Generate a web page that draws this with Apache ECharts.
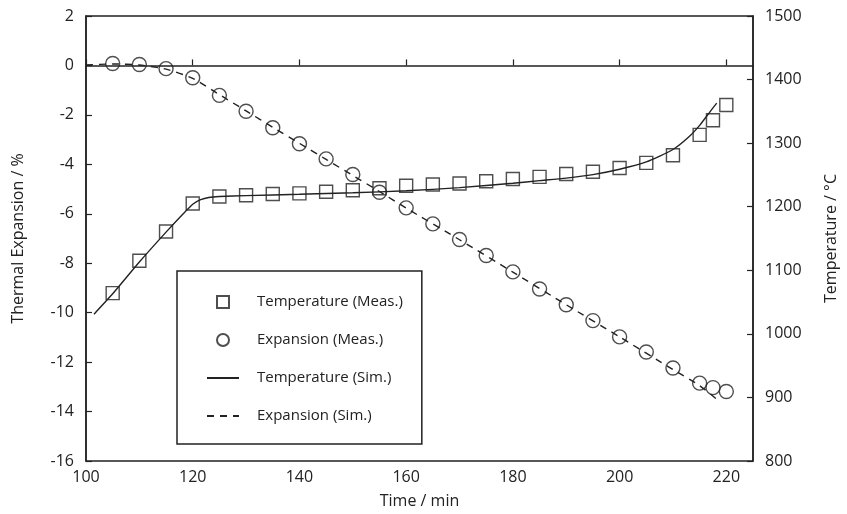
<!DOCTYPE html>
<html>
<head>
<meta charset="utf-8" />
<title>Thermal Expansion</title>
<script src="https://cdn.jsdelivr.net/npm/echarts@6/dist/echarts.min.js"></script>
<style>
  html, body { margin: 0; padding: 0; background: #fff; }
  #chart { width: 847px; height: 514px; }
</style>
</head>
<body>
<div id="chart"></div>
<script>
// measured points: [time min, value]
var tempMeas = [
  [105, 1064], [110, 1115], [115, 1161], [120, 1205], [125, 1216], [130, 1218],
  [135, 1220], [140, 1221], [145, 1223.5], [150, 1226], [155, 1229], [160, 1233],
  [165, 1235], [170, 1236.5], [175, 1240], [180, 1243.5], [185, 1247], [190, 1251.5],
  [195, 1255], [200, 1261], [205, 1269], [210, 1281], [215, 1313], [217.5, 1336], [220, 1360]
];
var expMeas = [
  [105, 0.08], [110, 0.04], [115, -0.13], [120, -0.5], [125, -1.21], [130, -1.85],
  [135, -2.52], [140, -3.17], [145, -3.78], [150, -4.41], [155, -5.13], [160, -5.76],
  [165, -6.41], [170, -7.04], [175, -7.69], [180, -8.35], [185, -9.04], [190, -9.68],
  [195, -10.32], [200, -10.98], [205, -11.59], [210, -12.24], [215, -12.85], [217.5, -13.03], [220, -13.19]
];
// simulated curves
var tempSim = [
  [101.5, 1031], [105, 1063], [110, 1113], [115, 1160], [118, 1187], [120, 1204],
  [121.5, 1211], [123, 1214.5], [125, 1216], [130, 1217.5], [140, 1219.5], [150, 1222],
  [160, 1225], [170, 1230], [180, 1237], [185, 1241], [190, 1245], [195, 1250.5],
  [200, 1259], [205, 1270.5], [210, 1290], [213, 1310], [215, 1328], [217, 1350], [218.2, 1363]
];
var expSim = [
  [100, 0.02], [105, 0.06], [110, 0.02], [115, -0.15], [120, -0.52], [125, -1.18],
  [130, -1.84], [135, -2.5], [140, -3.15], [145, -3.8], [150, -4.45], [155, -5.1],
  [160, -5.77], [170, -7.05], [180, -8.36], [190, -9.68], [200, -10.98], [210, -12.3],
  [215, -12.95], [218.2, -13.5]
];
var names = ['Temperature (Meas.)', 'Expansion (Meas.)', 'Temperature (Sim.)', 'Expansion (Sim.)'];

var ink = '#222';
var font = 'Open Sans';
var square = 'path://M0,0L10,0L10,10L0,10Z';

var chart = echarts.init(document.getElementById('chart'));
var axisBase = {
  axisLine: { show: true, lineStyle: { color: ink, width: 1.5 } },
  axisTick: { show: true, inside: true, length: 6, lineStyle: { color: ink, width: 1.2 } },
  axisLabel: { color: ink, fontFamily: font, fontSize: 16 },
  splitLine: { show: false },
  nameTextStyle: { color: ink, fontFamily: font, fontSize: 16 }
};
var noDot = { color: 'transparent', borderColor: 'transparent', borderWidth: 0 };
chart.setOption({
  animation: false,
  backgroundColor: '#fff',
  grid: { left: 86, right: 92, top: 16, bottom: 53, show: true, borderColor: ink, borderWidth: 1.5 },
  legend: {
    data: [
      { name: names[0] },
      { name: names[1] },
      { name: names[2], itemStyle: noDot },
      { name: names[3], itemStyle: noDot }
    ],
    orient: 'vertical',
    left: 177,
    top: 271,
    padding: [22, 19, 19, 29],
    itemWidth: 32,
    itemHeight: 12,
    itemGap: 20,
    borderColor: ink,
    borderWidth: 1.5,
    textStyle: { color: ink, fontFamily: font, fontSize: 15, lineHeight: 18, padding: [0, 0, 0, 13] }
  },
  xAxis: Object.assign({}, axisBase, {
    type: 'value', min: 100, max: 225, interval: 20,
    name: 'Time / min', nameLocation: 'middle', nameGap: 32,
    axisLabel: Object.assign({}, axisBase.axisLabel, { margin: 8, showMaxLabel: false })
  }),
  yAxis: [
    Object.assign({}, axisBase, {
      type: 'value', min: -16, max: 2, interval: 2,
      name: 'Thermal Expansion / %', nameLocation: 'middle', nameGap: 60, nameRotate: 90,
      axisLabel: Object.assign({}, axisBase.axisLabel, { margin: 12 })
    }),
    Object.assign({}, axisBase, {
      type: 'value', min: 800, max: 1500, interval: 100, position: 'right',
      name: 'Temperature / °C', nameLocation: 'middle', nameGap: 70, nameRotate: 90,
      axisLabel: Object.assign({}, axisBase.axisLabel, {
        margin: 12,
        formatter: function (v) { return String(v); }
      })
    })
  ],
  series: [
    {
      name: names[0], type: 'scatter', yAxisIndex: 1, data: tempMeas,
      symbol: square, symbolKeepAspect: true, symbolSize: 13, z: 5,
      itemStyle: { color: 'transparent', borderColor: ink, borderWidth: 1.4 }
    },
    {
      name: names[1], type: 'scatter', yAxisIndex: 0, data: expMeas,
      symbol: 'circle', symbolSize: 14, z: 5,
      itemStyle: { color: 'transparent', borderColor: ink, borderWidth: 1.4 }
    },
    {
      name: names[2], type: 'line', yAxisIndex: 1, data: tempSim,
      symbol: 'none', smooth: 0.2,
      lineStyle: { color: ink, width: 1.4 }, itemStyle: { color: ink }
    },
    {
      name: names[3], type: 'line', yAxisIndex: 0, data: expSim,
      symbol: 'none', smooth: 0.2,
      lineStyle: { color: ink, width: 1.4, type: [7, 6] }, itemStyle: { color: ink }
    }
  ]
});
window.onresize = function () { chart.resize(); };
</script>
</body>
</html>
